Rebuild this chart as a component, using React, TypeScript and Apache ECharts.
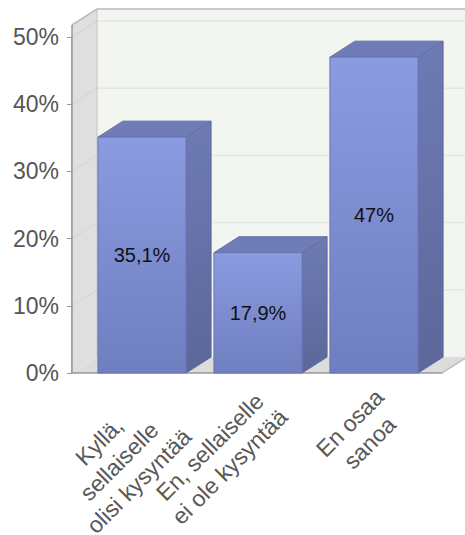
import React, { useEffect, useRef } from 'react';
import * as echarts from 'echarts';

const categories = ['Kyllä,\nsellaiselle\nolisi kysyntää', 'En, sellaiselle\nei ole kysyntää', 'En osaa\nsanoa'];
const values = [35.1, 17.9, 47];
const yTicks = [0, 10, 20, 30, 40, 50];
const valueLabels = values.map((v) => String(v).replace('.', ',') + '%');

const DX = 25;
const DY = -16;
const FONT = '"Liberation Sans", Arial, sans-serif';

function wallsRender(params: any, api: any) {
  const cs = params.coordSys;
  const gl = cs.x;
  const gr = cs.x + cs.width;
  const y0 = cs.y + cs.height;
  const axX = gl - 12;
  const frontR = gr + 10;
  const wallTopF = cs.y - 12;
  const children: any[] = [];
  // back wall
  children.push({
    type: 'rect',
    shape: { x: axX + DX, y: wallTopF + DY, width: 600, height: y0 - wallTopF },
    style: { fill: '#F3F5F1' },
  });
  // back gridlines
  yTicks.forEach((v) => {
    if (v === 0) return;
    const y = api.coord([0, v])[1];
    children.push({
      type: 'line',
      shape: { x1: axX + DX, y1: y + DY, x2: axX + DX + 600, y2: y + DY },
      style: { stroke: '#E3E6E1', lineWidth: 1.5 },
    });
  });
  // side wall
  children.push({
    type: 'polygon',
    shape: { points: [[axX, wallTopF], [axX + DX, wallTopF + DY], [axX + DX, y0 + DY], [axX, y0]] },
    style: { fill: '#DFDFDF' },
  });
  yTicks.forEach((v) => {
    if (v === 0) return;
    const y = api.coord([0, v])[1];
    children.push({
      type: 'line',
      shape: { x1: axX, y1: y, x2: axX + DX, y2: y + DY },
      style: { stroke: '#D3D3D3', lineWidth: 1 },
    });
  });
  // floor
  children.push({
    type: 'polygon',
    shape: { points: [[axX, y0], [axX + DX, y0 + DY], [frontR + DX + 40, y0 + DY], [frontR + 40, y0]] },
    style: { fill: '#DCDCDC' },
  });
  children.push({
    type: 'polygon',
    shape: { points: [[frontR, y0], [frontR + 60, y0], [frontR + 60, y0 + DY], [frontR + DX, y0 + DY]] },
    style: { fill: '#FFFFFF' },
  });
  // edges
  children.push({
    type: 'line',
    shape: { x1: axX + DX, y1: wallTopF + DY, x2: axX + DX + 600, y2: wallTopF + DY },
    style: { stroke: '#C9C9C9', lineWidth: 2 },
  });
  children.push({
    type: 'line',
    shape: { x1: axX + DX, y1: wallTopF + DY, x2: axX + DX, y2: y0 + DY },
    style: { stroke: '#C4C4C4', lineWidth: 1 },
  });
  children.push({
    type: 'line',
    shape: { x1: axX, y1: wallTopF, x2: axX + DX, y2: wallTopF + DY },
    style: { stroke: '#BBBBBB', lineWidth: 1.5 },
  });
  children.push({
    type: 'line',
    shape: { x1: axX, y1: wallTopF, x2: axX, y2: y0 },
    style: { stroke: '#9A9A9A', lineWidth: 1.5 },
  });
  children.push({
    type: 'line',
    shape: { x1: frontR, y1: y0, x2: frontR + DX, y2: y0 + DY },
    style: { stroke: '#C0C0C0', lineWidth: 1.5 },
  });
  children.push({
    type: 'line',
    shape: { x1: axX, y1: y0, x2: frontR, y2: y0 },
    style: { stroke: '#999999', lineWidth: 1.5 },
  });
  return { type: 'group', children };
}

function barRender(params: any, api: any) {
  const i = api.value(0);
  const v = api.value(1);
  const top = api.coord([i, v]);
  const base = api.coord([i, 0]);
  const bw = api.size([1, 0])[0];
  const w = bw * 0.76;
  const fx = top[0];
  const x1 = fx - w / 2;
  const x2 = fx + w / 2;
  const yt = top[1];
  const yb = base[1];
  return {
    type: 'group',
    children: [
      {
        type: 'polygon',
        shape: { points: [[x2, yt], [x2 + DX, yt + DY], [x2 + DX, yb + DY], [x2, yb]] },
        style: {
          fill: new echarts.graphic.LinearGradient(0, 0, 0, 1, [
            { offset: 0, color: '#6E7BB4' },
            { offset: 1, color: '#5C679A' },
          ]),
          stroke: '#5D689E',
          lineWidth: 1,
        },
      },
      {
        type: 'polygon',
        shape: { points: [[x1, yt], [x1 + DX, yt + DY], [x2 + DX, yt + DY], [x2, yt]] },
        style: { fill: '#6F7CB8', stroke: '#65719F', lineWidth: 1 },
      },
      {
        type: 'rect',
        shape: { x: x1, y: yt, width: w, height: yb - yt },
        style: {
          fill: new echarts.graphic.LinearGradient(0, 0, 0, 1, [
            { offset: 0, color: '#8B9BE1' },
            { offset: 1, color: '#6F7EBF' },
          ]),
          stroke: '#6A76B3',
          lineWidth: 1,
        },
      },
      {
        type: 'text',
        x: fx,
        y: (yt + yb) / 2,
        style: {
          text: valueLabels[i],
          fill: '#111111',
          fontSize: 20,
          fontFamily: FONT,
          align: 'center',
          verticalAlign: 'middle',
        },
      },
    ],
  };
}

export default function App() {
  const ref = useRef<HTMLDivElement>(null);
  useEffect(() => {
    const chart = echarts.init(ref.current!, null, { renderer: 'svg' });
    chart.setOption({
      animation: false,
      backgroundColor: '#ffffff',
      grid: { left: 84, width: 348, top: 37, height: 336, containLabel: false, outerBoundsMode: 'none' },
      xAxis: {
        type: 'category',
        data: categories,
        axisLine: { show: false },
        axisTick: { show: false },
        axisLabel: {
          interval: 0,
          rotate: 45,
          margin: 6,
          verticalAlign: 'top',
          padding: [0, 6, 0, 0],
          formatter: (v: string) => v.split('\n').map((l) => `{c|${l}}`).join('\n'),
          rich: { c: { align: 'center', fontSize: 23, lineHeight: 28, color: '#585858', fontFamily: FONT } },
        },
      },
      yAxis: {
        type: 'value',
        min: 0,
        max: 50,
        interval: 10,
        offset: 12,
        axisLine: { show: true, lineStyle: { color: '#999999', width: 1.5 } },
        axisTick: { show: true, length: 5, lineStyle: { color: '#999999' } },
        axisLabel: { formatter: '{value}%', fontSize: 23, color: '#555555', margin: 13, fontFamily: FONT },
        splitLine: { show: false },
      },
      series: [
        { type: 'custom', clip: false, z: 1, silent: true, data: [[0, 0]], renderItem: wallsRender },
        { type: 'custom', clip: false, z: 3, data: values.map((v, i) => [i, v]), renderItem: barRender },
      ],
    });
    return () => chart.dispose();
  }, []);
  return <div ref={ref} style={{ position: 'fixed', left: 0, top: 0, width: 465, height: 535 }} />;
}
